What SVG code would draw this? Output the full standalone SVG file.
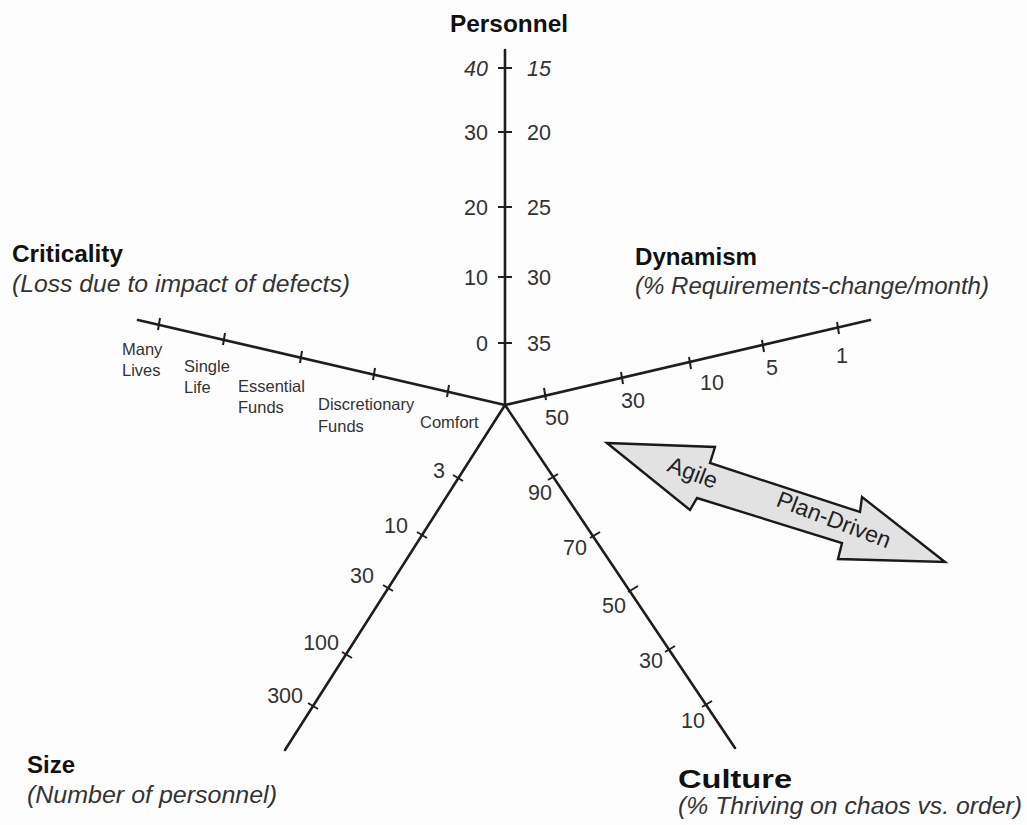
<svg xmlns="http://www.w3.org/2000/svg" width="1027" height="825" viewBox="0 0 1027 825">
  <style>
    .axis { stroke: #1e1e1e; stroke-width: 2.6; fill: none; stroke-linecap: round; }
    .tick { stroke: #1e1e1e; stroke-width: 2; fill: none; }
    .title { font-family: "Liberation Sans", Arial, sans-serif; font-weight: bold; font-size: 24px; fill: #111; }
    .sub { font-family: "Liberation Sans", Arial, sans-serif; font-style: italic; font-size: 23px; fill: #333; }
    .num { font-family: "Liberation Sans", Arial, sans-serif; font-size: 21.5px; fill: #333; }
    .numi { font-family: "Liberation Sans", Arial, sans-serif; font-style: italic; font-size: 21.5px; fill: #333; }
    .lbl { font-family: "Liberation Sans", Arial, sans-serif; font-size: 16.5px; fill: #333; }
    .arrow { fill: #e2e2e2; stroke: #1a1a1a; stroke-width: 2.4; stroke-linejoin: miter; }
    .arrowtxt { font-family: "Liberation Sans", Arial, sans-serif; font-size: 23px; fill: #222; }
  </style>
  <rect width="1027" height="825" fill="#fdfdfd"/>

  <!-- axes radiating from the common centre -->
  <g id="connectors">
    <line class="axis" x1="505" y1="405" x2="505" y2="50"/>
    <line class="axis" x1="505" y1="405" x2="138" y2="320"/>
    <line class="axis" x1="505" y1="405" x2="870" y2="320"/>
    <line class="axis" x1="505" y1="405" x2="285" y2="750"/>
    <line class="axis" x1="505" y1="405" x2="735" y2="748"/>
  </g>

  <!-- Personnel axis -->
  <g id="personnel">
    <text class="title" x="450" y="32" textLength="118" lengthAdjust="spacingAndGlyphs">Personnel</text>
    <g class="tick">
      <line x1="498" y1="68" x2="512" y2="68"/>
      <line x1="498" y1="132" x2="512" y2="132"/>
      <line x1="498" y1="207" x2="512" y2="207"/>
      <line x1="498" y1="277" x2="512" y2="277"/>
      <line x1="498" y1="343" x2="512" y2="343"/>
    </g>
    <g text-anchor="end">
      <text class="numi" x="488" y="76">40</text>
      <text class="num" x="488" y="140">30</text>
      <text class="num" x="488" y="215">20</text>
      <text class="num" x="488" y="285">10</text>
      <text class="num" x="488" y="351">0</text>
    </g>
    <text class="numi" x="527" y="76">15</text>
    <text class="num" x="527" y="140">20</text>
    <text class="num" x="527" y="215">25</text>
    <text class="num" x="527" y="285">30</text>
    <text class="num" x="527" y="351">35</text>
  </g>

  <!-- Criticality axis -->
  <g id="criticality">
    <text class="title" x="12" y="262" textLength="111" lengthAdjust="spacingAndGlyphs">Criticality</text>
    <text class="sub" x="12" y="292" textLength="338" lengthAdjust="spacingAndGlyphs">(Loss due to impact of defects)</text>
    <g class="tick">
      <line x1="160" y1="318" x2="158" y2="330"/>
      <line x1="225" y1="333" x2="223" y2="345"/>
      <line x1="302" y1="351" x2="300" y2="363"/>
      <line x1="375" y1="368" x2="373" y2="380"/>
      <line x1="449" y1="385" x2="447" y2="397"/>
    </g>
    <text class="lbl" x="122" y="355">Many</text>
    <text class="lbl" x="122" y="376">Lives</text>
    <text class="lbl" x="184" y="372">Single</text>
    <text class="lbl" x="184" y="393">Life</text>
    <text class="lbl" x="238" y="392">Essential</text>
    <text class="lbl" x="238" y="413">Funds</text>
    <text class="lbl" x="318" y="410">Discretionary</text>
    <text class="lbl" x="318" y="432">Funds</text>
    <text class="lbl" x="420" y="428">Comfort</text>
  </g>

  <!-- Dynamism axis -->
  <g id="dynamism">
    <text class="title" x="635" y="265" textLength="122" lengthAdjust="spacingAndGlyphs">Dynamism</text>
    <text class="sub" x="635" y="294" textLength="354" lengthAdjust="spacingAndGlyphs">(% Requirements-change/month)</text>
    <g class="tick">
      <line x1="544" y1="388" x2="546" y2="400"/>
      <line x1="621" y1="372" x2="623" y2="384"/>
      <line x1="689" y1="357" x2="691" y2="369"/>
      <line x1="762" y1="340" x2="764" y2="352"/>
      <line x1="837" y1="322" x2="839" y2="334"/>
    </g>
    <text class="num" x="545" y="425">50</text>
    <text class="num" x="621" y="408">30</text>
    <text class="num" x="700" y="390">10</text>
    <text class="num" x="766" y="375">5</text>
    <text class="num" x="836" y="363">1</text>
  </g>

  <!-- Size axis -->
  <g id="size">
    <text class="title" x="27" y="773" textLength="48" lengthAdjust="spacingAndGlyphs">Size</text>
    <text class="sub" x="27" y="803" textLength="250" lengthAdjust="spacingAndGlyphs">(Number of personnel)</text>
    <g class="tick">
      <line x1="453" y1="475" x2="463" y2="481"/>
      <line x1="417" y1="532" x2="427" y2="538"/>
      <line x1="383" y1="585" x2="393" y2="591"/>
      <line x1="342" y1="652" x2="352" y2="658"/>
      <line x1="308" y1="703" x2="318" y2="709"/>
    </g>
    <g text-anchor="end">
      <text class="num" x="445" y="478">3</text>
      <text class="num" x="408" y="533">10</text>
      <text class="num" x="374" y="583">30</text>
      <text class="num" x="339" y="650">100</text>
      <text class="num" x="303" y="703">300</text>
    </g>
  </g>

  <!-- Culture axis -->
  <g id="culture">
    <text class="title" x="678" y="788" style="font-size:25px" textLength="114" lengthAdjust="spacingAndGlyphs">Culture</text>
    <text class="sub" x="678" y="814" textLength="344" lengthAdjust="spacingAndGlyphs">(% Thriving on chaos vs. order)</text>
    <g class="tick">
      <line x1="548" y1="480" x2="558" y2="474"/>
      <line x1="590" y1="538" x2="600" y2="532"/>
      <line x1="628" y1="592" x2="638" y2="586"/>
      <line x1="665" y1="652" x2="675" y2="646"/>
      <line x1="702" y1="707" x2="712" y2="701"/>
    </g>
    <text class="num" x="528" y="500">90</text>
    <text class="num" x="563" y="555">70</text>
    <text class="num" x="602" y="613">50</text>
    <text class="num" x="639" y="668">30</text>
    <text class="num" x="681" y="728">10</text>
  </g>

  <!-- Agile / Plan-Driven double arrow -->
  <g id="agile-plan-arrow">
    <polygon class="arrow" points="607,443 715,447 710,463 860,512 862,497 945,562 838,559 842,543 697,498 690,510"/>
    <text class="arrowtxt" text-anchor="middle" transform="translate(690,480) rotate(21)">Agile</text>
    <text class="arrowtxt" text-anchor="middle" transform="translate(831,527) rotate(21)">Plan-Driven</text>
  </g>
</svg>
